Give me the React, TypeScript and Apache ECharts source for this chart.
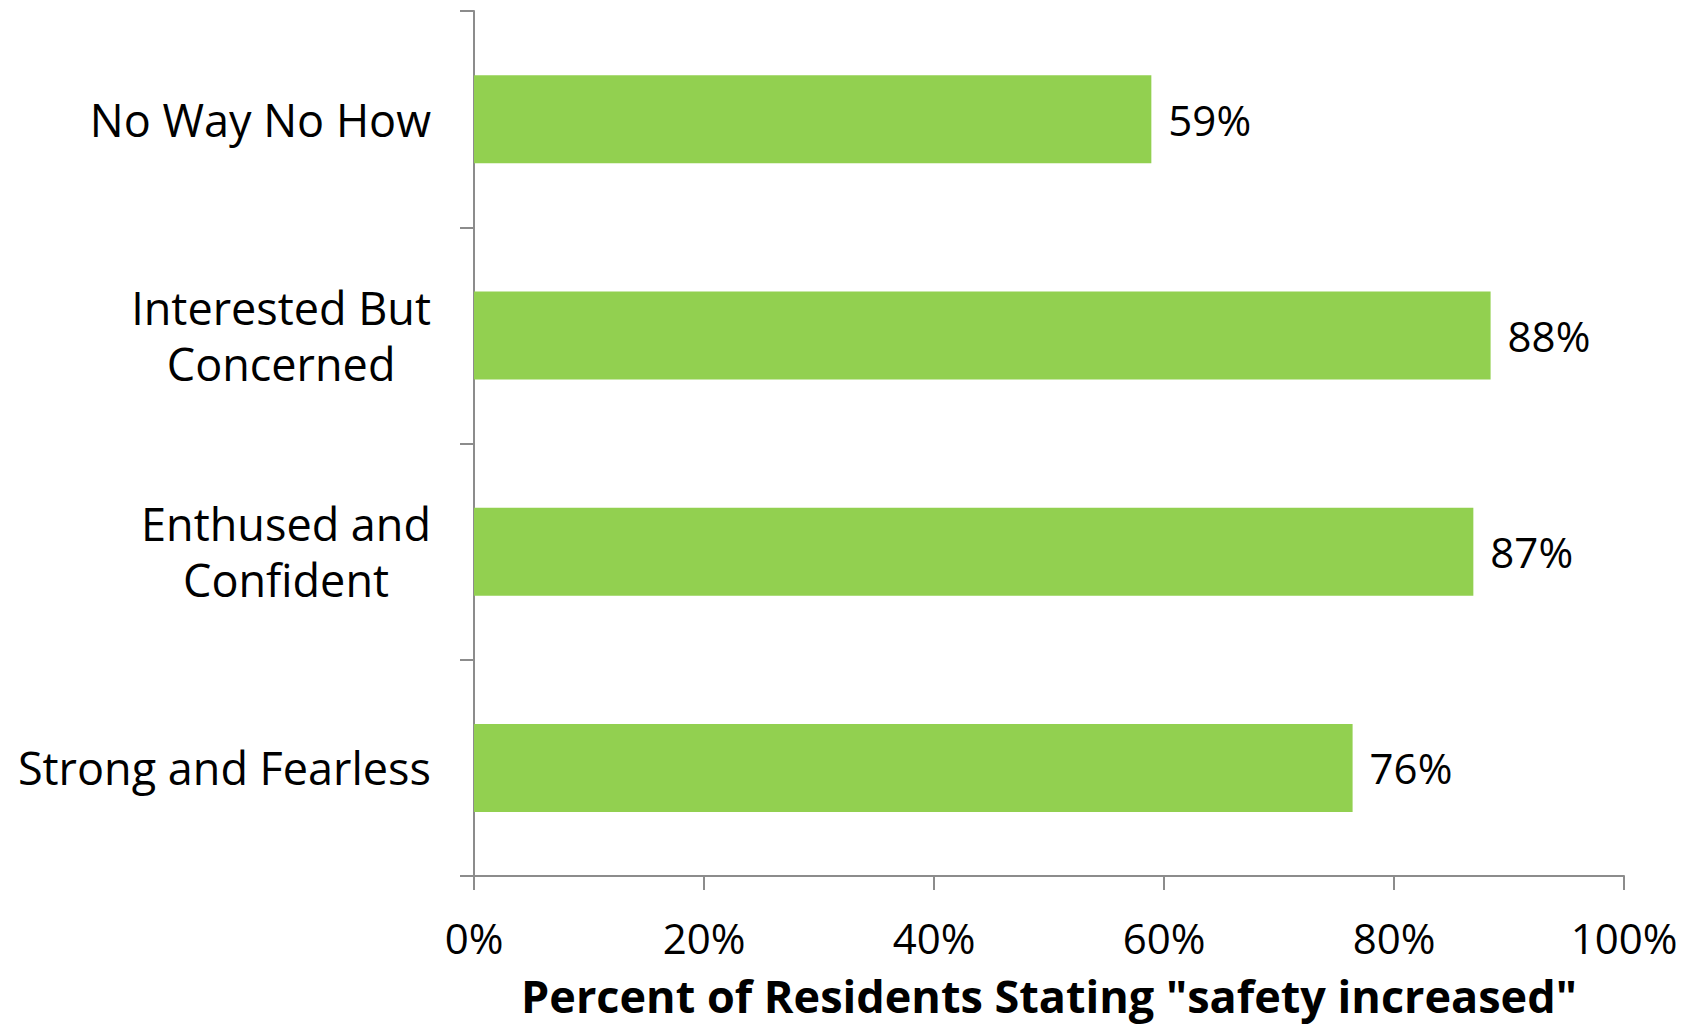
import React, { useEffect, useRef } from "react";
import * as echarts from "echarts";

const categories = [
  "No Way No How",
  "Interested But\nConcerned",
  "Enthused and\nConfident",
  "Strong and Fearless",
];
const values = [58.9, 88.4, 86.9, 76.4];
const xTicks = [0, 20, 40, 60, 80, 100];
const axisTitle = 'Percent of Residents Stating "safety increased"';

const FONT = "Open Sans";
const AXIS_COLOR = "#8c8c8c";
const FS = 45;
const NUM_FS = 42;

export default function App() {
  const ref = useRef<HTMLDivElement>(null);
  useEffect(() => {
    const chart = echarts.init(ref.current!, null, { renderer: "svg" });
    chart.setOption({
      animation: false,
      backgroundColor: "#ffffff",
      grid: {
        left: 474,
        right: 70,
        top: 11,
        bottom: 148,
        containLabel: false,
        outerBoundsMode: "none",
      },
      xAxis: {
        type: "value",
        min: xTicks[0],
        max: xTicks[xTicks.length - 1],
        interval: 20,
        name: axisTitle,
        nameLocation: "middle",
        nameGap: 97,
        nameTextStyle: { fontFamily: FONT, fontSize: FS, fontWeight: "bold", color: "#000" },
        axisLine: { show: true, lineStyle: { color: AXIS_COLOR, width: 2 } },
        axisTick: { show: true, length: 14, lineStyle: { color: AXIS_COLOR, width: 2 } },
        splitLine: { show: false },
        axisLabel: {
          margin: 40,
          fontFamily: FONT,
          fontSize: NUM_FS,
          color: "#000",
          formatter: (v: number) => `${v}%`,
        },
      },
      yAxis: {
        type: "category",
        data: categories,
        inverse: true,
        axisLine: { show: true, lineStyle: { color: AXIS_COLOR, width: 2 } },
        axisTick: { show: true, length: 14, lineStyle: { color: AXIS_COLOR, width: 2 } },
        axisLabel: {
          margin: 43,
          fontFamily: FONT,
          fontSize: FS,
          color: "#000",
          align: "right",
          formatter: (v: string) => v.split("\n").map((l) => `{c|${l}}`).join("\n"),
          rich: {
            c: { align: "center", fontFamily: FONT, fontSize: FS, color: "#000", lineHeight: 56 },
          },
        },
      },
      series: [
        {
          type: "bar",
          data: values,
          barWidth: 88,
          itemStyle: { color: "#92D050" },
          label: {
            show: true,
            position: "right",
            distance: 17,
            fontFamily: FONT,
            fontSize: NUM_FS,
            color: "#000",
            formatter: (p: any) => `${Math.round(p.value)}%`,
          },
        },
      ],
    });
    return () => chart.dispose();
  }, []);
  return (
    <div
      ref={ref}
      style={{ position: "fixed", left: 0, top: 0, width: 1694, height: 1024, background: "#fff" }}
    />
  );
}
